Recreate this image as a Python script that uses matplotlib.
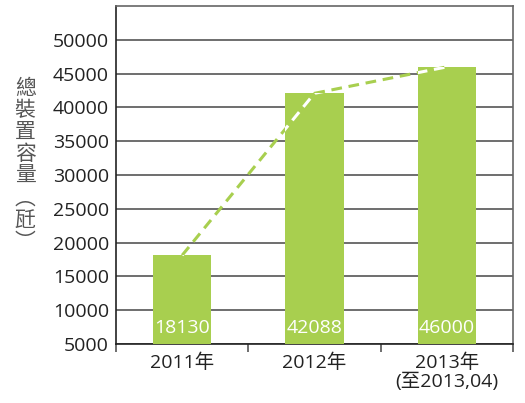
import matplotlib
matplotlib.use("Agg")
import matplotlib.pyplot as plt

years = ["2011年", "2012年", "2013年\n(至2013,04)"]
capacity = [18130, 42088, 46000]
yticks = [5000, 10000, 15000, 20000, 25000, 30000, 35000, 40000, 45000, 50000]
ylabel_chars = ["總", "裝", "置", "容", "量", "︵", "瓩", "︶"]

green = "#a8cf4f"
fonts = ["Open Sans", "Noto Sans CJK TC", "DejaVu Sans"]
plt.rcParams["font.family"] = fonts

fig = plt.figure(figsize=(5.25, 4.03), dpi=100)
ax = fig.add_axes([0.221, 0.1464, 0.756, 0.8386])

x = list(range(len(years)))
base = 5000
bars = ax.bar(x, [v - base for v in capacity], bottom=base, width=0.44,
              color=green, zorder=3)

# dashed trend line across bar tops
ax.plot(x, capacity, ls=(0, (3.5, 2.2)), lw=2.2, color=green, zorder=4)
for b in bars:
    ln, = ax.plot(x, capacity, ls=(0, (3.5, 2.2)), lw=2.2, color="white", zorder=5)
    ln.set_clip_path(b)

for xi, v in zip(x, capacity):
    ax.text(xi, 7400, str(v), color="white", ha="center", va="center",
            fontsize=14, zorder=6)

ax.set_xlim(-0.5, 2.5)
ax.set_ylim(5000, 55000)
ax.set_yticks(yticks)
ax.set_yticklabels([str(t) for t in yticks], fontsize=14, color="#222")
ax.tick_params(axis="y", length=0, pad=5)
ax.set_xticks(x)
ax.set_xticklabels(years, fontsize=14, color="#222", linespacing=1.05)
ax.tick_params(axis="x", which="major", length=0, pad=7)
ax.set_xticks([-0.5, 0.5, 1.5, 2.5], minor=True)
ax.tick_params(axis="x", which="minor", length=6, width=1.2, color="#555")

ax.grid(axis="y", color="#555", lw=1.2, zorder=0)
ax.spines["left"].set_color("#222")
ax.spines["bottom"].set_color("#222")
ax.spines["top"].set_color("#666")
ax.spines["right"].set_color("#666")
for s in ax.spines.values():
    s.set_linewidth(1.2)

fig.text(0.048, 0.59, "\n".join(ylabel_chars), fontsize=15, color="#555",
         ha="center", va="center", linespacing=1.0,
         family=["Noto Sans CJK TC", "DejaVu Sans"])

fig.savefig("out.png", dpi=100)
